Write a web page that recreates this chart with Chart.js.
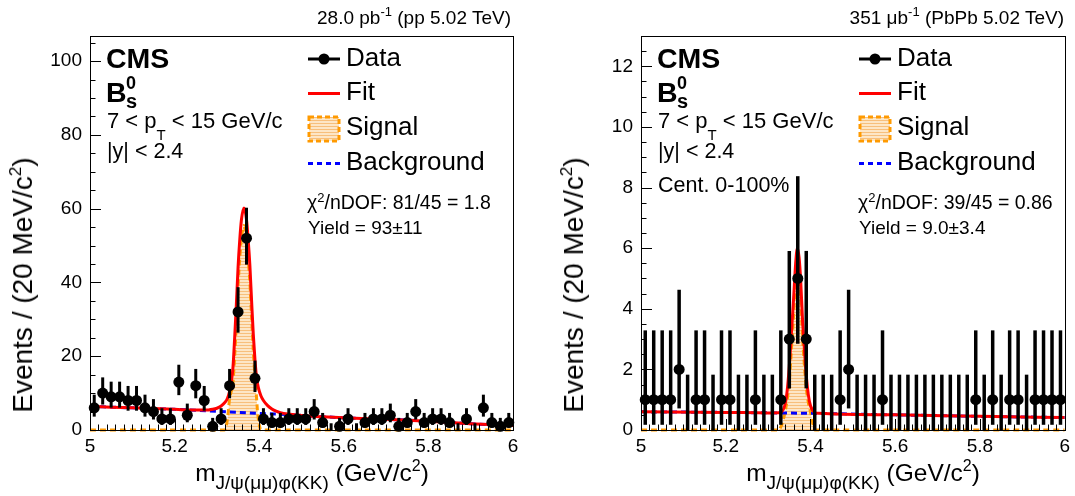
<!DOCTYPE html>
<html><head><meta charset="utf-8">
<script src="https://cdn.jsdelivr.net/npm/chart.js@4.4.1/dist/chart.umd.min.js"></script>
<style>
html,body{margin:0;padding:0;background:#fff;}
#wrap{position:relative;width:1075px;height:496px;overflow:hidden;font-family:"Liberation Sans",Arial,Helvetica,sans-serif;color:#000;background:#fff;}
canvas{position:absolute;top:0;}
.t{position:absolute;white-space:nowrap;line-height:1;}
.sp{position:relative;}
</style></head><body>
<div id="wrap">
<canvas id="cL" width="540" height="496" style="left:0"></canvas>
<canvas id="cR" width="535" height="496" style="left:540px"></canvas>
</div>
<script>
// ---------------- data ----------------
const binCenters = [5.01,5.03,5.05,5.07,5.09,5.11,5.13,5.15,5.17,5.19,5.21,5.23,5.25,5.27,5.29,5.31,5.33,5.35,5.37,5.39,
  5.41,5.43,5.45,5.47,5.49,5.51,5.53,5.55,5.57,5.59,5.61,5.63,5.65,5.67,5.69,5.71,5.73,5.75,5.77,5.79,
  5.81,5.83,5.85,5.87,5.89,5.91,5.93,5.95,5.97,5.99];
const ppCounts = [6,10,9,9,8,8,6,5,3,3,13,4,12,8,1,3,12,32,52,14,3,2,2,3,3,3,5,2,0,1,3,0,2,3,3,4,1,2,5,2,3,3,2,0,3,0,6,2,1,2];
const pbpbCounts = [1,1,1,1,2,0,1,1,0,1,1,0,0,1,0,0,1,3,5,3,0,0,0,1,2,0,0,0,1,0,0,0,0,0,0,0,0,0,0,1,0,1,0,1,1,0,1,1,1,1];

const ppFitX = [5.00,5.05,5.10,5.15,5.20,5.25,5.28,5.29,5.30,5.31,5.32,5.325,5.33,5.334,5.338,5.342,5.346,5.350,5.354,5.358,5.364,5.370,5.374,5.378,5.382,5.386,5.390,5.394,5.398,5.404,5.41,5.42,5.43,5.44,5.45,5.50,5.55,5.60,5.70,5.80,5.90,6.00];
const ppFitY = [6.4,6.2,6.0,5.8,5.6,5.4,5.45,5.6,5.9,6.5,7.6,8.6,10.5,13,17,25,34,44,51.5,57,60.2,57,51.5,44.5,35,26,19,14,11.5,9.3,8.0,6.6,5.7,5.1,4.7,3.95,3.6,3.3,2.9,2.4,1.7,1.2];
const ppBkgX = [5.00,5.05,5.10,5.15,5.20,5.25,5.30,5.35,5.40,5.45,5.50,5.55,5.60,5.70,5.80,5.90,6.00];
const ppBkgY = [6.4,6.2,6.0,5.8,5.6,5.35,5.05,4.8,4.5,4.3,3.95,3.6,3.3,2.9,2.4,1.7,1.2];
const ppSigX = [5.00,5.318,5.322,5.326,5.330,5.334,5.338,5.342,5.346,5.350,5.354,5.358,5.364,5.370,5.374,5.378,5.382,5.386,5.390,5.393,5.396,5.400,5.404,6.00];
const ppSigY = [0,0,1,4,8.5,10.5,13,20,29,39,46.5,52,55.4,52,46.5,40,30.5,21.5,14.5,10,5,1.5,0,0];

const pbFitX = [5.00,5.20,5.30,5.33,5.34,5.345,5.35,5.355,5.36,5.365,5.369,5.373,5.377,5.381,5.385,5.39,5.395,5.40,5.41,5.42,5.60,5.80,6.00];
const pbFitY = [0.60,0.58,0.565,0.58,0.85,1.3,2.1,3.2,4.3,5.5,6.0,5.7,4.9,3.7,2.8,1.8,1.15,0.8,0.58,0.55,0.50,0.45,0.41];
const pbBkgX = [5.00,5.20,5.40,5.60,5.80,6.00];
const pbBkgY = [0.60,0.58,0.55,0.50,0.45,0.41];
const pbSigX = [5.00,5.325,5.33,5.335,5.34,5.345,5.35,5.355,5.36,5.365,5.369,5.373,5.377,5.381,5.385,5.39,5.395,5.40,5.405,5.41,6.00];
const pbSigY = [0,0,0.1,0.3,0.6,1.0,1.6,2.65,3.75,4.95,5.45,5.15,4.35,3.15,2.25,1.4,0.9,0.6,0.25,0,0];

const xTickValues = [5,5.2,5.4,5.6,5.8,6];
const xTickLabels = ['5','5.2','5.4','5.6','5.8','6'];
const ppYTickValues = [0,20,40,60,80,100];
const ppYTickLabels = ['0','20','40','60','80','100'];
const pbYTickValues = [0,2,4,6,8,10,12];
const pbYTickLabels = ['0','2','4','6','8','10','12'];

// ---------------- helpers ----------------
const FONT = '"Liberation Sans", Arial, Helvetica, sans-serif';
const pts = (xs, ys) => xs.map((x, i) => ({x: x, y: ys[i]}));
// Garwood (Poisson) interval, Wilson-Hilferty approximation
function poisLo(n){ if(n<=0) return 0; const a = 1 - 1/(9*n) - 1/(3*Math.sqrt(n)); return n*a*a*a; }
function poisHi(n){ const m = n+1; const a = 1 - 1/(9*m) + 1/(3*Math.sqrt(m)); return m*a*a*a; }

function hatchPattern(){
  const pc = document.createElement('canvas'); pc.width = 4; pc.height = 3;
  const g = pc.getContext('2d');
  g.fillStyle = '#fde6c6'; g.fillRect(0,0,4,3);
  g.fillStyle = '#f7bf7c'; g.fillRect(0,0,4,1);
  return g.createPattern(pc, 'repeat');
}
const hatch = hatchPattern();

const framePlugin = {
  id: 'rootFrame',
  beforeDatasetDraw(chart, args) {
    const ds = chart.data.datasets[args.index];
    if (!ds.isData) return;
    const ctx = chart.ctx, xs = chart.scales.x, ys = chart.scales.y;
    ctx.save();
    ctx.strokeStyle = '#000'; ctx.lineWidth = ds.barWidth;
    ds.data.forEach(p => {
      const px = xs.getPixelForValue(p.x);
      const lo = ys.getPixelForValue(poisLo(p.y)), hi = ys.getPixelForValue(poisHi(p.y));
      ctx.beginPath(); ctx.moveTo(px, lo); ctx.lineTo(px, hi); ctx.stroke();
    });
    ctx.restore();
  },
  afterDraw(chart) {
    const o = chart.options.plugins.rootFrame;
    const ctx = chart.ctx, a = chart.chartArea, xs = chart.scales.x, ys = chart.scales.y;
    ctx.save();
    ctx.strokeStyle = '#000'; ctx.lineWidth = 1;
    ctx.strokeRect(Math.round(a.left)+0.5, Math.round(a.top)+0.5, Math.round(a.right-a.left), Math.round(a.bottom-a.top));
    ctx.beginPath();
    for (let v = 0; v <= ys.max + 1e-9; v += o.yMinor) {
      const py = Math.round(ys.getPixelForValue(v)) + 0.5;
      const major = o.yMajor.some(m => Math.abs(m - v) < 1e-6);
      ctx.moveTo(a.left, py); ctx.lineTo(a.left + (major ? 11 : 5.5), py);
    }
    for (let v = 5; v <= 6 + 1e-9; v += 0.02) {
      const px = Math.round(xs.getPixelForValue(v)) + 0.5;
      const major = xTickValues.some(m => Math.abs(m - v) < 1e-6);
      ctx.moveTo(px, a.bottom); ctx.lineTo(px, a.bottom - (major ? 11 : 5.5));
    }
    ctx.stroke();
    // legend symbols
    const lx = a.left + 218, lw = 32;
    ctx.lineWidth = 3; ctx.strokeStyle = '#000';
    ctx.beginPath(); ctx.moveTo(lx, 59); ctx.lineTo(lx+lw, 59); ctx.stroke();
    ctx.fillStyle = '#000'; ctx.beginPath(); ctx.arc(lx+lw/2, 59, 5.5, 0, Math.PI*2); ctx.fill();
    ctx.strokeStyle = '#ff0000'; ctx.beginPath(); ctx.moveTo(lx, 93.5); ctx.lineTo(lx+lw, 93.5); ctx.stroke();
    ctx.fillStyle = hatch; ctx.fillRect(lx+1, 117, lw-2, 24);
    ctx.strokeStyle = '#ff9a00'; ctx.setLineDash([5,3]); ctx.strokeRect(lx+1, 117, lw-2, 24);
    ctx.strokeStyle = '#0000ff'; ctx.setLineDash([5,4]);
    ctx.beginPath(); ctx.moveTo(lx, 163.5); ctx.lineTo(lx+lw, 163.5); ctx.stroke();
    ctx.restore();
  }
};

function makeChart(id, cfg) {
  const datasets = [
    { label: 'Data', isData: true, barWidth: cfg.barWidth, data: pts(binCenters, cfg.counts), showLine: false,
      pointRadius: c => (c.raw && c.raw.y > 0) ? 5.5 : 0, pointBackgroundColor: '#000', pointBorderWidth: 0,
      order: 0, clip: false },
    { label: 'Fit', data: pts(cfg.fitX, cfg.fitY), showLine: true, borderColor: '#ff0000', borderWidth: 3,
      pointRadius: 0, cubicInterpolationMode: 'monotone', order: 1, fill: false },
    { label: 'Background', data: pts(cfg.bkgX, cfg.bkgY), showLine: true, borderColor: '#0000ff', borderWidth: 3,
      borderDash: [6,4], pointRadius: 0, cubicInterpolationMode: 'monotone', order: 2, fill: false },
    { label: 'Signal', data: pts(cfg.sigX, cfg.sigY), showLine: true, borderColor: '#ff9a00', borderWidth: 3,
      borderDash: [6,4], pointRadius: 0, cubicInterpolationMode: 'monotone', order: 3, fill: 'origin',
      backgroundColor: hatch, clip: {left: 0, top: 0, right: 0, bottom: 4} }
  ];
  return new Chart(document.getElementById(id), {
    type: 'line',
    data: { datasets: datasets },
    options: {
      responsive: false, animation: false, events: [],
      layout: { padding: { left: 0, top: 36, right: cfg.padRight, bottom: 0 } },
      plugins: { legend: { display: false }, tooltip: { enabled: false },
        rootFrame: { yMinor: cfg.yMinor, yMajor: cfg.yTickValues } },
      scales: {
        x: { type: 'linear', min: 5, max: 6,
          afterFit: s => { s.height = 66; },
          afterBuildTicks: s => { s.ticks = xTickValues.map(v => ({value: v})); },
          ticks: { callback: (v, i) => xTickLabels[i], font: { family: FONT, size: 19 }, color: '#000', padding: 5, maxRotation: 0, autoSkip: false },
          grid: { display: false, drawTicks: false }, border: { display: false } },
        y: { type: 'linear', min: 0, max: cfg.yMax,
          afterFit: s => { s.width = cfg.yWidth; },
          afterBuildTicks: s => { s.ticks = cfg.yTickValues.map(v => ({value: v})); },
          ticks: { callback: (v, i) => cfg.yTickLabels[i], font: { family: FONT, size: 19 }, color: '#000', padding: 8, autoSkip: false },
          grid: { display: false, drawTicks: false }, border: { display: false } }
      }
    },
    plugins: [framePlugin]
  });
}

makeChart('cL', { counts: ppCounts, fitX: ppFitX, fitY: ppFitY, bkgX: ppBkgX, bkgY: ppBkgY, sigX: ppSigX, sigY: ppSigY,
  yMax: 106.8, yWidth: 90, padRight: 27, yTickValues: ppYTickValues, yTickLabels: ppYTickLabels, yMinor: 5, barWidth: 3 });
makeChart('cR', { counts: pbpbCounts, fitX: pbFitX, fitY: pbFitY, bkgX: pbBkgX, bkgY: pbBkgY, sigX: pbSigX, sigY: pbSigY,
  yMax: 13.0, yWidth: 101, padRight: 9, yTickValues: pbYTickValues, yTickLabels: pbYTickLabels, yMinor: 0.5, barWidth: 3.5 });

// ---------------- text overlay ----------------
const wrap = document.getElementById('wrap');
function txt(html, x, base, size, opt) {
  opt = opt || {};
  const d = document.createElement('div');
  d.className = 't'; d.innerHTML = html;
  d.style.fontSize = size + 'px';
  d.style.top = (base - 0.8465 * size) + 'px';
  if (opt.bold) d.style.fontWeight = 'bold';
  if (opt.align === 'right') { d.style.right = (1075 - x) + 'px'; }
  else if (opt.align === 'center') { d.style.left = x + 'px'; d.style.transform = 'translateX(-50%)'; }
  else d.style.left = x + 'px';
  wrap.appendChild(d);
  return d;
}
function sup(s, size, dy){ return '<span class="sp" style="font-size:'+size+'px;top:'+dy+'px">'+s+'</span>'; }

function panelText(fl, fr, header, chi, yld, cent) {
  txt(header, fr - 2, 24, 19, {align: 'right'});
  txt('CMS', fl + 16, 68, 28.5, {bold: true});
  txt('B', fl + 16, 102, 28.5, {bold: true});
  txt('0', fl + 36, 89, 18, {bold: true});
  txt('s', fl + 36, 108, 20, {bold: true});
  txt('7 &lt; p' + sup('T', 15, 12) + ' &lt; 15 GeV/c', fl + 17, 129, 22);
  txt('|y| &lt; 2.4', fl + 17, 159, 21.5);
  if (cent) txt(cent, fl + 17, 193, 21.5);
  const tx = fl + 256;
  txt('Data', tx, 66, 26);
  txt('Fit', tx, 100.5, 26);
  txt('Signal', tx, 135, 26);
  txt('Background', tx, 170, 26);
  txt(chi, fl + 217, 210, 19.5);
  txt(yld, fl + 218, 234, 19);
  txt('m' + sup('J/ψ(μμ)φ(KK)', 19, 8) + ' (GeV/c' + sup('2', 16, -10) + ')', fl + 222, 482, 24.5, {align: 'center'});
  const yt = txt('Events / (20 MeV/c' + sup('2', 17, -11) + ')', 0, 0, 28);
  yt.style.left = (fl - 67) + 'px'; yt.style.top = '285px';
  yt.style.transform = 'translate(-50%,-50%) rotate(-90deg)';
}
panelText(90, 513, '28.0 pb' + sup('-1', 13, -8) + ' (pp 5.02 TeV)', 'χ' + sup('2', 13, -7) + '/nDOF: 81/45 = 1.8', 'Yield = 93±11', null);
panelText(641, 1066, '351 μb' + sup('-1', 13, -8) + ' (PbPb 5.02 TeV)', 'χ' + sup('2', 13, -7) + '/nDOF: 39/45 = 0.86', 'Yield = 9.0±3.4', 'Cent. 0-100%');
</script>
</body></html>
